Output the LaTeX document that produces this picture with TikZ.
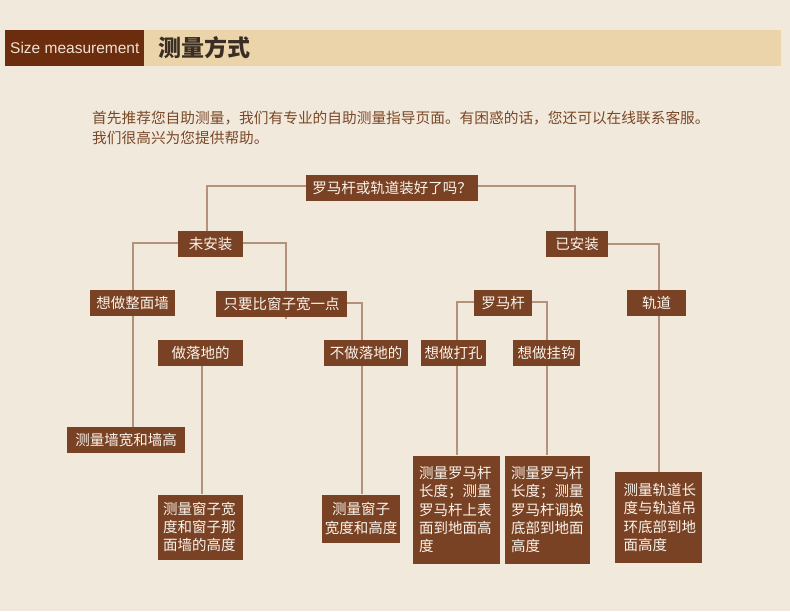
\documentclass[tikz,border=0pt]{standalone}
\usepackage{fontspec}
\setmainfont{Liberation Sans}
\newfontfamily\cjk{Noto Sans CJK SC}
\definecolor{bgc}{RGB}{242,233,221}
\definecolor{hdrdark}{RGB}{108,45,14}
\definecolor{hdrlight}{RGB}{235,212,170}
\definecolor{boxfill}{RGB}{122,66,36}
\definecolor{linec}{RGB}{178,146,122}
\definecolor{introc}{RGB}{122,72,38}
\definecolor{titlec}{RGB}{58,46,36}
\definecolor{boxtext}{RGB}{250,244,236}
\definecolor{sizec}{RGB}{240,226,212}
\pgfdeclarelayer{back}
\pgfdeclarelayer{lines}
\pgfsetlayers{back,lines,main}
\tikzset{
  box/.style={fill=boxfill, text=boxtext, font=\cjk\fontsize{14.5}{18.3}\selectfont, inner sep=0pt, align=center},
  lbox/.style={box, align=left},
  conn/.style={draw=linec, line width=1.3pt},
}
\begin{document}
\begin{tikzpicture}[x=1pt,y=-1pt]
\useasboundingbox (0,0) rectangle (790,611);
\begin{pgfonlayer}{back}
\fill[bgc] (0,0) rectangle (790,611);
\fill[hdrlight] (144,30) rectangle (781,66);
\fill[hdrdark] (5,30) rectangle (144,66);
\end{pgfonlayer}
% header texts
\node[anchor=base west, inner sep=0pt, text=sizec, font=\fontsize{15.5}{16}\selectfont] (sizetxt) at (10,53.3) {Size measurement};
\node[anchor=west, inner sep=0pt, text=titlec, font=\cjk\bfseries\fontsize{23}{23}\selectfont] (title) at (158,47.5) {测量方式};
% intro
\node[anchor=base west, inner sep=0pt, text=introc, font=\cjk\fontsize{14.7}{19}\selectfont] (intro1) at (92,123.3) {首先推荐您自助测量，我们有专业的自助测量指导页面。有困惑的话，您还可以在线联系客服。};
\node[anchor=base west, inner sep=0pt, text=introc, font=\cjk\fontsize{14.7}{19}\selectfont] (intro2) at (92,143) {我们很高兴为您提供帮助。};
% boxes
\node[box, minimum width=172pt, minimum height=26pt] (Q) at (392,188) {罗马杆或轨道装好了吗？};
\node[box, minimum width=65pt, minimum height=26pt] (wei) at (210.5,244) {未安装};
\node[box, minimum width=62pt, minimum height=26pt] (yi) at (577,244) {已安装};
\node[box, minimum width=85pt, minimum height=26pt] (zhengmian) at (132.5,303) {想做整面墙};
\node[box, minimum width=131pt, minimum height=26pt] (zhiyao) at (281.5,304) {只要比窗子宽一点};
\node[box, minimum width=58pt, minimum height=26pt] (luoma) at (503,303) {罗马杆};
\node[box, minimum width=59pt, minimum height=26pt] (guidao) at (656.5,303) {轨道};
\node[box, minimum width=85pt, minimum height=26pt] (luodi) at (200.5,353) {做落地的};
\node[box, minimum width=84pt, minimum height=26pt] (buluodi) at (366,353) {不做落地的};
\node[box, minimum width=65pt, minimum height=26pt] (dakong) at (453.5,353) {想做打孔};
\node[box, minimum width=67pt, minimum height=26pt] (guagou) at (546.5,353) {想做挂钩};
\node[box, minimum width=118pt, minimum height=26pt] (r1) at (126,440) {测量墙宽和墙高};
\node[lbox, inner xsep=5pt, text width=75pt, minimum height=65pt] (r2) at (200.5,527) {测量窗子宽\\度和窗子那\\面墙的高度};
\node[box, minimum width=78pt, minimum height=48pt] (r3) at (361,518.5) {测量窗子\\宽度和高度};
\node[lbox, inner xsep=6pt, text width=75pt, minimum height=108pt] (r4) at (456.5,509.5) {测量罗马杆\\长度；测量\\罗马杆上表\\面到地面高\\度};
\node[lbox, inner xsep=6pt, text width=73pt, minimum height=108pt] (r5) at (547.5,509.5) {测量罗马杆\\长度；测量\\罗马杆调换\\底部到地面\\高度};
\node[lbox, inner xsep=8.5pt, text width=70pt, minimum height=91pt] (r6) at (658.5,517.5) {测量轨道长\\度与轨道吊\\环底部到地\\面高度};
% connector corners
\coordinate (k1) at (207,186);
\coordinate (k2) at (575,186);
\coordinate (k3) at (133,243);
\coordinate (k4) at (286,243);
\coordinate (k4e) at (286,319);
\coordinate (k5) at (362,303);
\coordinate (k6) at (457,302);
\coordinate (k7) at (547,302);
\coordinate (k8) at (659,244);
\coordinate (k9) at (202,353);
\begin{pgfonlayer}{lines}
\draw[conn] (k1 -| Q.west) -- (k1) -- (k1 |- wei.north);
\draw[conn] (k2 -| Q.east) -- (k2) -- (k2 |- yi.north);
\draw[conn] (k3 -| wei.west) -- (k3) -- (k3 |- r1.north);
\draw[conn] (k4 -| wei.east) -- (k4) -- (k4e);
\draw[conn] (k5 -| zhiyao.east) -- (k5) -- (k5 |- buluodi.north);
\draw[conn] (k5 |- buluodi.south) -- (k5 |- r3.north);
\draw[conn] (k9 |- luodi.south) -- (k9 |- r2.north);
\draw[conn] (k6 -| luoma.west) -- (k6) -- (k6 |- dakong.north);
\draw[conn] (k6 |- dakong.south) -- (k6 |- r4.north);
\draw[conn] (k7 -| luoma.east) -- (k7) -- (k7 |- guagou.north);
\draw[conn] (k7 |- guagou.south) -- (k7 |- r5.north);
\draw[conn] (k8 -| yi.east) -- (k8) -- (k8 |- r6.north);
\end{pgfonlayer}
\end{tikzpicture}
\end{document}
